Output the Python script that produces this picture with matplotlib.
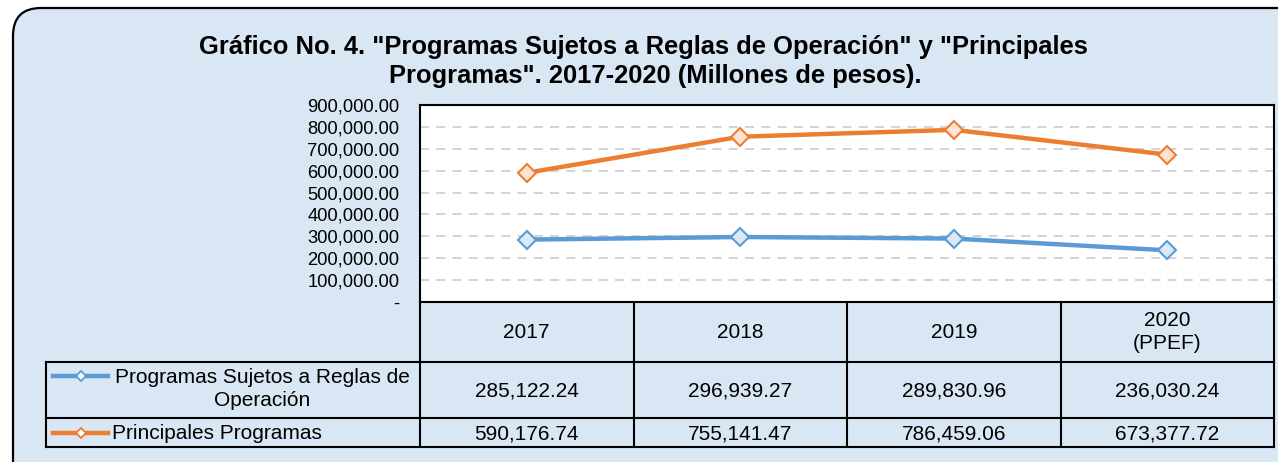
import matplotlib
matplotlib.use("Agg")
import matplotlib.pyplot as plt
from matplotlib.patches import FancyBboxPatch
from matplotlib.ticker import FuncFormatter, MultipleLocator
from matplotlib.lines import Line2D

plt.rcParams["font.family"] = ["Liberation Sans", "DejaVu Sans"]

# Datos
anios = ["2017", "2018", "2019", "2020\n(PPEF)"]
reglas_operacion = [285122.24, 296939.27, 289830.96, 236030.24]
principales = [590176.74, 755141.47, 786459.06, 673377.72]
series = ["Programas Sujetos a Reglas de\nOperación", "Principales Programas"]

titulo_1 = 'Gráfico No. 4. "Programas Sujetos a Reglas de Operación" y "Principales'
titulo_2 = 'Programas". 2017-2020 (Millones de pesos).'

AZUL = "#5b9bd5"
NARANJA = "#ed7d31"
FONDO = "#d9e7f4"

W, H = 1278, 462
fig = plt.figure(figsize=(W / 100, H / 100), dpi=100)
fig.patch.set_facecolor("white")

# capa de fondo en pixeles
fondo = fig.add_axes([0, 0, 1, 1])
fondo.set_xlim(0, W)
fondo.set_ylim(H, 0)
fondo.axis("off")
marco = FancyBboxPatch((13, 8), W + 40, H + 40,
                       boxstyle="round,pad=0,rounding_size=28",
                       facecolor=FONDO, edgecolor="black", linewidth=1.6)
fondo.add_patch(marco)

fondo.text(643, 47, titulo_1, ha="center", va="center", fontsize=18.4,
           fontweight="bold")
fondo.text(655, 76, titulo_2, ha="center", va="center", fontsize=18.4,
           fontweight="bold")

# grafico
x0, x1, y0, y1 = 420, 1274, 105, 302
ax = fig.add_axes([x0 / W, 1 - y1 / H, (x1 - x0) / W, (y1 - y0) / H])
ax.set_facecolor("white")
xs = range(len(anios))
ax.plot(xs, reglas_operacion, color=AZUL, lw=3.2, marker="D", ms=9.5,
        mfc="#dce9f6", mec=AZUL, mew=1.5, zorder=3)
ax.plot(xs, principales, color=NARANJA, lw=3.2, marker="D", ms=9.5,
        mfc="#fbe4d5", mec=NARANJA, mew=1.5, zorder=3)
ax.set_xlim(-0.5, len(anios) - 0.5)
ax.set_ylim(0, 900000)
ax.yaxis.set_major_locator(MultipleLocator(100000))
ax.yaxis.set_major_formatter(FuncFormatter(lambda v, p: "-" if v == 0 else f"{v:,.2f}"))
ax.grid(axis="y", color="#d0d0d0", linestyle=(0, (5, 4)), linewidth=1.3)
ax.set_xticks([])
ax.tick_params(axis="y", length=0, labelsize=13.2, pad=15)
for s in ax.spines.values():
    s.set_linewidth(1.5)
    s.set_color("black")

# tabla de datos
tx0, ty_head, ty2, ty3 = 46, 362, 418, 447
col_w = (x1 - x0) / len(anios)
lw = 1.5
for yy in (ty_head, ty2, ty3):
    fondo.plot([tx0, x1], [yy, yy], color="black", lw=lw, zorder=5)
fondo.plot([tx0, tx0], [ty_head, ty3], color="black", lw=lw, zorder=5)
for i in range(len(anios) + 1):
    cx = x0 + i * col_w
    fondo.plot([cx, cx], [y1, ty3], color="black", lw=lw, zorder=5)

fs = 15
for i, a in enumerate(anios):
    cx = x0 + (i + 0.5) * col_w
    fondo.text(cx, (y1 + ty_head) / 2, a, ha="center", va="center",
               fontsize=fs, linespacing=1.25)
    fondo.text(cx, (ty_head + ty2) / 2 + 1, f"{reglas_operacion[i]:,.2f}",
               ha="center", va="center", fontsize=fs)
    fondo.text(cx, (ty2 + ty3) / 2 + 1, f"{principales[i]:,.2f}",
               ha="center", va="center", fontsize=fs)

filas = [((ty_head + ty2) / 2, AZUL), ((ty2 + ty3) / 2, NARANJA)]
for (yc, col), nombre in zip(filas, series):
    multi = "\n" in nombre
    ly = yc - 14 if multi else yc
    fondo.add_line(Line2D([53, 80.5, 108], [ly, ly, ly], color=col, lw=3.2,
                          marker="D", markevery=[1], ms=5.5, mfc="white", mec=col,
                          mew=1.3, zorder=6))
    if multi:
        fondo.text(262, yc - 1, nombre, ha="center", va="center", fontsize=fs,
                   linespacing=1.25)
    else:
        fondo.text(112, yc + 1, nombre, ha="left", va="center", fontsize=fs)

fig.savefig("out.png", dpi=100)
